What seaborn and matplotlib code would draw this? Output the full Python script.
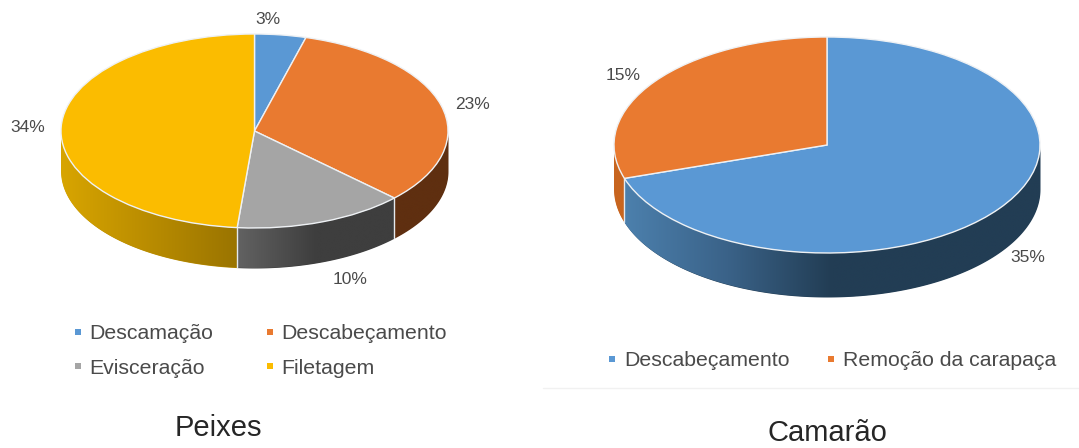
import numpy as np
import matplotlib
matplotlib.use("Agg")
import matplotlib.pyplot as plt
from matplotlib.lines import Line2D
import seaborn as sns

W, H = 1079, 448

fish_steps = ["Descamação", "Descabeçamento", "Evisceração", "Filetagem"]
fish_values = [3, 23, 10, 34]
fish_colors = ["#5A98D4", "#E97A30", "#A5A5A5", "#FBBC00"]
fish_walls = [["#3A6A96", "#2E5578"], ["#5F2F10", "#5F2F10"],
              ["#626262", "#3E3E3E", "#3E3E3E"], ["#D8A500", "#B98C00", "#9A7400"]]

shrimp_steps = ["Descabeçamento", "Remoção da carapaça"]
shrimp_values = [35, 15]
shrimp_colors = ["#5A98D4", "#E97A30"]
shrimp_walls = [["#4C80AD", "#3A6288", "#223D54", "#223D54", "#223D54"], ["#C8651F", "#C8651F"]]

sns.set_theme(style="white")
plt.rcParams["font.family"] = ["Liberation Sans", "DejaVu Sans"]

fig = plt.figure(figsize=(W / 100, H / 100), dpi=100, facecolor="white")


def px(x, y):
    return x / W, 1 - y / H


def disc(cx, cy, rx, ry, depth, values, colors, walls):
    """Tilted pie: squashed top face plus a shaded wall along the front rim."""
    ax = fig.add_axes([(cx - rx) / W, 1 - (cy + ry + depth) / H,
                       2 * rx / W, (2 * ry + depth) / H])
    wedges, _ = ax.pie(values, colors=sns.color_palette(colors), startangle=90,
                       counterclock=False, radius=1,
                       wedgeprops=dict(edgecolor="#EEF1F4", linewidth=1.0,
                                       clip_on=False, zorder=3))
    drop = depth / ry

    edges = np.cumsum([0] + list(values)) / sum(values) * 360
    for a0, a1, stops in zip(edges[:-1], edges[1:], walls):
        lo, hi = max(a0, 90), min(a1, 270)
        if hi <= lo:
            continue
        ang = np.radians(np.linspace(lo, hi, 181))
        x, y = np.sin(ang), np.cos(ang)
        order = np.argsort(x)
        x, y = x[order], y[order]
        shades = sns.blend_palette(stops, n_colors=256)
        base = ax.fill_between(x, y, y - drop, color=shades[128], linewidth=0,
                               zorder=1, clip_on=False)
        # Left-to-right shading, cut to the outline of this slice's wall
        ramp = np.array(shades)[np.newaxis, :, :]
        face = ax.imshow(ramp, extent=[x.min(), x.max(), -1 - drop, 1], aspect="auto",
                         interpolation="bilinear", zorder=1.5)
        face.set_clip_path(base.get_paths()[0], ax.transData)
    for a in edges:
        if 90 < a % 360 < 270:
            t = np.radians(a)
            ax.plot([np.sin(t)] * 2, [np.cos(t), np.cos(t) - drop],
                    color="#E4E9EE", linewidth=1.0, zorder=2)
    ax.set_aspect("auto")
    ax.set_xlim(-1, 1)
    ax.set_ylim(-1 - drop, 1)
    ax.axis("off")
    return wedges


def legend_for(labels, colors, order, ncol, centre, colsp, rowsp):
    handles = [Line2D([], [], linestyle="none", marker="s", markersize=5,
                      markerfacecolor=colors[i], markeredgewidth=0) for i in order]
    fig.legend(handles, [labels[i] for i in order], ncol=ncol, loc="center",
               bbox_to_anchor=px(*centre), frameon=False, fontsize=15.3,
               labelcolor="#4A4A4A", handlelength=0.5, handletextpad=0.3,
               columnspacing=colsp, labelspacing=rowsp, borderpad=0, borderaxespad=0)


disc(254.5, 131, 193.5, 97, 40, fish_values, fish_colors, fish_walls)
disc(827, 145, 213, 108, 44, shrimp_values, shrimp_colors, shrimp_walls)

# Value labels next to each slice
fish_label_xy = [(268, 20), (473, 104), (350, 280), (28, 128)]
shrimp_label_xy = [(1028, 258), (623, 75)]
for vals, places in ((fish_values, fish_label_xy), (shrimp_values, shrimp_label_xy)):
    for v, (x, y) in zip(vals, places):
        fig.text(*px(x, y), f"{v}%", ha="center", va="center",
                 fontsize=12.5, color="#4A4A4A")

# matplotlib fills legends by column, so the entries are listed to read across rows
legend_for(fish_steps, fish_colors, [0, 2, 1, 3], 2, (259.5, 351), 2.4, 0.73)
legend_for(shrimp_steps, shrimp_colors, [0, 1], 2, (831.5, 361), 1.7, 0.5)

# Faint rule under the right-hand chart
fig.add_artist(Line2D([543 / W, 1], [1 - 388 / H] * 2, color="#F1F1F1", linewidth=1))

fig.text(*px(218, 428), "Peixes", ha="center", va="center", fontsize=21, color="#262626")
fig.text(*px(827, 433), "Camarão", ha="center", va="center", fontsize=21, color="#262626")

fig.savefig("out.png", dpi=100, facecolor="white")
